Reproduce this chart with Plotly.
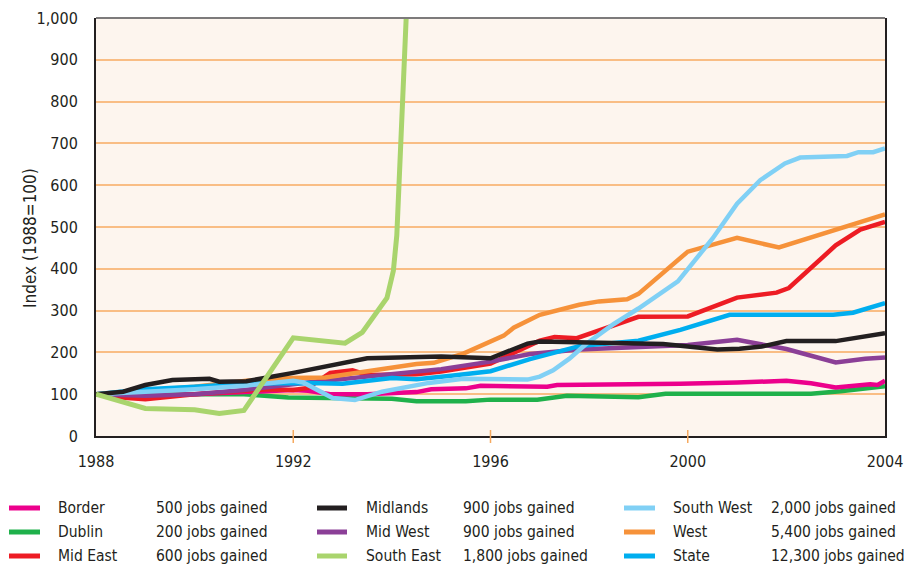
import plotly.graph_objects as go

# Regional index series (1988 = 100); each region has its own sample years
border_years = [1988, 1989, 1990, 1991, 1992, 1992.3, 1992.75, 1993.5, 1994.0, 1994.5, 1994.8,
                1995.5, 1995.8, 1997.15, 1997.35, 1998.5, 1999.85, 2001.0, 2002.0, 2002.5,
                2003.0, 2003.7, 2003.85, 2004]
border_index = [100, 95, 100, 105, 110, 108, 100, 100, 102, 105, 112,
                114, 120, 118, 122, 123, 125, 128, 132, 126,
                116, 124, 122, 132]

dublin_years = [1988, 1989, 1990, 1991, 1991.9, 1994.0, 1994.5, 1995.5, 1996.0, 1996.95,
                1997.55, 1999.0, 1999.55, 2002.5, 2003.1, 2004]
dublin_index = [100, 98, 100, 100, 92, 89, 83, 83, 87, 87,
                96, 93, 101, 101, 107, 119]

mideast_years = [1988, 1988.5, 1989, 1990, 1991, 1991.5, 1992, 1992.3, 1992.75, 1993.2, 1993.5,
                 1994.5, 1995.0, 1996.0, 1997.0, 1997.3, 1997.75, 1998.4, 1999.0, 2000.0,
                 2001.0, 2001.8, 2002.05, 2003.0, 2003.5, 2004]
mideast_index = [100, 92, 88, 100, 108, 112, 110, 115, 151, 157, 146,
                 148, 154, 173, 228, 237, 234, 260, 285, 286,
                 331, 343, 354, 456, 494, 512]

midlands_years = [1988, 1988.55, 1989.0, 1989.55, 1990.3, 1990.5, 1991.05, 1992.0, 1993.5, 1994.0,
                  1995.0, 1996.0, 1996.75, 1997.0, 1997.8, 1998.8, 1999.5, 1999.85, 2000.6,
                  2001.05, 2001.5, 2002.0, 2003.0, 2004]
midlands_index = [100, 106, 122, 134, 137, 130, 131, 151, 186, 188,
                  190, 186, 221, 226, 224, 221, 220, 216, 207,
                  209, 214, 227, 227, 246]

midwest_years = [1988, 1989, 1990, 1991, 1992.3, 1994.0, 1995.0, 1996.0, 1996.8, 1997.8,
                 1999.0, 2000.0, 2001.0, 2002.0, 2003.0, 2003.6, 2004]
midwest_index = [100, 96, 100, 110, 128, 148, 160, 178, 196, 207,
                 212, 218, 230, 208, 176, 185, 188]

southeast_years = [1988, 1989, 1990, 1990.5, 1991.0, 1992.0, 1993.05, 1993.4, 1993.9, 1994.03,
                   1994.1, 1994.17, 1994.23, 1994.29]
southeast_index = [100, 66, 63, 54, 61, 235, 222, 248, 330, 395,
                   480, 670, 860, 1000]

southwest_years = [1988, 1989, 1990, 1991, 1992.0, 1992.2, 1992.8, 1993.25, 1993.8, 1994.75,
                   1995.45, 1996.75, 1997.0, 1997.27, 1997.6, 1997.95, 1998.5, 1999.0, 1999.8,
                   2000.5, 2001.0, 2001.47, 2001.97, 2002.28, 2003.23, 2003.46, 2003.76, 2004]
southwest_index = [100, 105, 112, 120, 132, 128, 91, 86, 106, 127,
                   137, 135, 142, 157, 185, 221, 268, 305, 370,
                   472, 556, 612, 652, 666, 670, 679, 679, 688]

west_years = [1988, 1989, 1990, 1991.05, 1991.9, 1992.65, 1993.5, 1993.8, 1994.5, 1994.85,
              1995.45, 1996.27, 1996.47, 1997.0, 1997.8, 1998.2, 1998.77, 1999.0, 2000.0,
              2001.0, 2001.85, 2004]
west_index = [100, 108, 118, 132, 139, 140, 155, 158, 172, 175,
              197, 240, 259, 290, 314, 322, 327, 340, 441,
              474, 451, 530]

state_years = [1988, 1989, 1990, 1991, 1992.3, 1993.0, 1994.0, 1994.5, 1995.2, 1996.0, 1996.8,
               1997.8, 1999.0, 1999.85, 2000.85, 2002.95, 2003.35, 2004]
state_index = [100, 112, 118, 125, 127, 125, 139, 136, 144, 155, 184,
               215, 228, 254, 290, 290, 295, 318]

# Legend entries, in reading order (column by column)
region_names = ["Border", "Dublin", "Mid East", "Midlands", "Mid West", "South East",
                "South West", "West", "State"]
jobs_gained = ["500 jobs gained", "200 jobs gained", "600 jobs gained",
               "900 jobs gained", "900 jobs gained", "1,800 jobs gained",
               "2,000 jobs gained", "5,400 jobs gained", "12,300 jobs gained"]

y_ticks = [0, 100, 200, 300, 400, 500, 600, 700, 800, 900, 1000]
x_ticks = [1988, 1992, 1996, 2000, 2004]

colors = {
    "Border": "#ec008c",
    "Dublin": "#1fb14b",
    "Mid East": "#ed1c24",
    "Midlands": "#231f20",
    "Mid West": "#8b3f97",
    "South East": "#a9d46d",
    "South West": "#80d0f5",
    "West": "#f6923a",
    "State": "#00aeef",
}

series = {
    "Border": (border_years, border_index),
    "Dublin": (dublin_years, dublin_index),
    "Mid East": (mideast_years, mideast_index),
    "Midlands": (midlands_years, midlands_index),
    "Mid West": (midwest_years, midwest_index),
    "South East": (southeast_years, southeast_index),
    "South West": (southwest_years, southwest_index),
    "West": (west_years, west_index),
    "State": (state_years, state_index),
}

FONT = "DejaVu Sans Condensed, Liberation Sans Narrow, Arial Narrow, sans-serif"
TEXT = "#231f20"

fig = go.Figure()

draw_order = ["Dublin", "Border", "Mid East", "Mid West", "West", "State",
              "South West", "Midlands", "South East"]
for name in draw_order:
    xs, ys = series[name]
    fig.add_trace(go.Scatter(
        x=xs, y=ys, mode="lines", name=name,
        line=dict(color=colors[name], width=5 if name == "South East" else 4.5),
        showlegend=False, hoverinfo="x+y+name",
    ))

# Plot frame and axis marks
W, H = 909, 570
L, R, T, B = 96, 24, 18, 134
plot_w = W - L - R
plot_h = H - T - B


def px_x(p):
    return (p - L) / plot_w


def px_y(p):
    return (H - B - p) / plot_h


shapes = [
    dict(type="line", xref="paper", yref="paper", x0=0, x1=1, y0=1, y1=1,
         line=dict(color="#7d7b7b", width=2)),
]
for xt in x_ticks[1:-1]:
    shapes.append(dict(type="line", xref="x", yref="paper", x0=xt, x1=xt,
                       y0=-7 / plot_h, y1=6 / plot_h,
                       line=dict(color="#f6a95f", width=1.5)))

annotations = [
    dict(xref="paper", yref="paper", x=px_x(30), y=px_y(238), text="Index (1988=100)",
         textangle=-90, showarrow=False, xanchor="center", yanchor="middle",
         font=dict(family=FONT, size=17, color=TEXT)),
]

# Custom legend: swatch, region name and jobs gained text
col_swatch = [(9, 40), (317, 347), (624, 655)]
col_name = [56, 364, 671]
col_jobs = [154, 461, 769]
row_y = [508, 532, 556]

for i, name in enumerate(region_names):
    c, r = divmod(i, 3)
    y = px_y(row_y[r])
    shapes.append(dict(type="line", xref="paper", yref="paper",
                       x0=px_x(col_swatch[c][0]), x1=px_x(col_swatch[c][1]), y0=y, y1=y,
                       line=dict(color=colors[name], width=5)))
    annotations.append(dict(xref="paper", yref="paper", x=px_x(col_name[c]), y=y,
                            text=name, showarrow=False, xanchor="left", yanchor="middle",
                            font=dict(family=FONT, size=15.5, color=TEXT)))
    annotations.append(dict(xref="paper", yref="paper", x=px_x(col_jobs[c]), y=y,
                            text=jobs_gained[i], showarrow=False, xanchor="left",
                            yanchor="middle",
                            font=dict(family=FONT, size=15.5, color=TEXT)))

fig.update_layout(
    width=W, height=H,
    margin=dict(l=L, r=R, t=T, b=B, autoexpand=False),
    paper_bgcolor="white",
    plot_bgcolor="#fdf5ee",
    font=dict(family=FONT, size=16, color=TEXT),
    shapes=shapes,
    annotations=annotations,
    showlegend=False,
)

fig.update_xaxes(
    range=[1988, 2004], tickvals=x_ticks, ticktext=[str(v) for v in x_ticks],
    showgrid=False, zeroline=False, ticks="", automargin=False,
    showline=True, linecolor="#231f20", linewidth=2, mirror=False,
    tickfont=dict(family=FONT, size=16, color=TEXT), ticklabelstandoff=10,
)
fig.update_yaxes(
    range=[0, 1000], tickvals=y_ticks, ticktext=[f"{v:,}" for v in y_ticks],
    showgrid=True, gridcolor="#f9bd84", gridwidth=1.5, zeroline=False, ticks="",
    automargin=False,
    showline=True, linecolor="#231f20", linewidth=2, mirror=True,
    tickfont=dict(family=FONT, size=16, color=TEXT), ticklabelstandoff=13,
)

fig.write_html("out.html")
